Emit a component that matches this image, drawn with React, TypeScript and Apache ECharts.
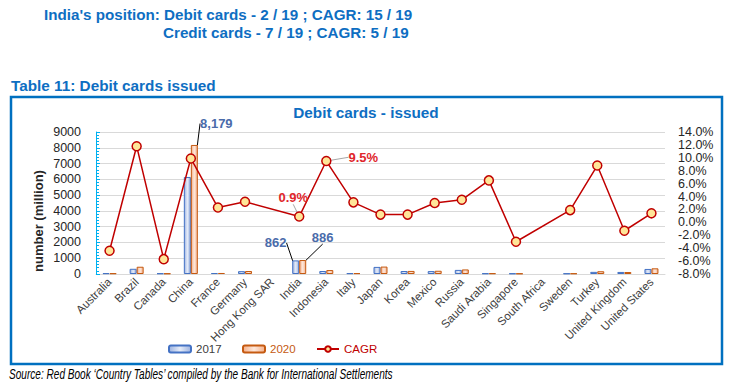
import React, { useEffect, useRef } from "react";
import * as echarts from "echarts";

const countries = [
  "Australia", "Brazil", "Canada", "China", "France", "Germany", "Hong Kong SAR",
  "India", "Indonesia", "Italy", "Japan", "Korea", "Mexico", "Russia",
  "Saudi Arabia", "Singapore", "South Africa", "Sweden", "Turkey",
  "United Kingdom", "United States",
];
const cards2017: (number | null)[] = [
  50, 330, 40, 6150, 60, 180, null, 862, 190, 50, 450, 190, 185, 260, 40, 35, null, 35, 135, 130, 320,
];
const cards2020: (number | null)[] = [
  45, 460, 35, 8179, 65, 190, null, 886, 250, 55, 470, 195, 205, 290, 45, 30, null, 38, 175, 125, 360,
];
const cagr: (number | null)[] = [
  -4.4, 11.8, -5.7, 9.9, 2.3, 3.2, null, 0.9, 9.5, 3.1, 1.2, 1.2, 3.0, 3.5, 6.5, -3.0, null, 1.9, 8.8, -1.3, 1.4,
];
const leftTicks = { min: 0, max: 9000, interval: 1000 };
const rightTicks = { min: -8, max: 14, interval: 2 };

const BLUE = "#0E6EC2";
const FONT = "'Liberation Sans', Arial, sans-serif";

export default function App() {
  const ref = useRef<HTMLDivElement>(null);
  useEffect(() => {
    if (!ref.current) return;
    const chart = echarts.init(ref.current, undefined, { renderer: "svg" });
    const grad2017 = new echarts.graphic.LinearGradient(0, 0, 1, 0, [
      { offset: 0, color: "#9CB2E0" },
      { offset: 0.5, color: "#E6ECF8" },
      { offset: 1, color: "#9CB2E0" },
    ]);
    const grad2020 = new echarts.graphic.LinearGradient(0, 0, 1, 0, [
      { offset: 0, color: "#F5B08A" },
      { offset: 0.5, color: "#FDE8DC" },
      { offset: 1, color: "#F5B08A" },
    ]);
    const labelIdx2017 = countries.indexOf("India");
    const labelIdx2020 = [countries.indexOf("China"), countries.indexOf("India")];
    const cagrLabelIdx = [countries.indexOf("India"), countries.indexOf("Indonesia")];
    const numLabel = {
      show: true,
      position: "top",
      color: "#4A6BAA",
      fontWeight: "bold",
      fontSize: 13,
      fontFamily: FONT,
      formatter: (p: any) => Number(p.value).toLocaleString("en-US"),
    };
    const legendBase = {
      top: 343,
      itemWidth: 22,
      itemHeight: 7,
      padding: 0,
      textStyle: { fontFamily: FONT, fontSize: 11.5 },
    };
    chart.setOption({
      animation: false,
      graphic: [
        {
          type: "text", left: 44, top: 7,
          style: { text: "India's position: Debit cards - 2 / 19 ; CAGR: 15 / 19", fill: BLUE, font: `bold 15.2px ${FONT}` },
        },
        {
          type: "text", left: 163, top: 25,
          style: { text: "Credit cards - 7 / 19 ; CAGR: 5 / 19", fill: BLUE, font: `bold 15.2px ${FONT}` },
        },
        {
          type: "text", left: 11, top: 78,
          style: { text: "Table 11: Debit cards issued", fill: BLUE, font: `bold 15.3px ${FONT}` },
        },
        {
          type: "rect", shape: { x: 11, y: 97, width: 711, height: 267 },
          style: { fill: "none", stroke: "#0070C0", lineWidth: 2.5 }, z: -1,
        },
        {
          type: "text", x: 38, y: 221, rotation: Math.PI / 2,
          style: { text: "number (million)", fill: "#262626", font: `bold 13px ${FONT}`, align: "center", verticalAlign: "middle" },
        },
        {
          type: "text", x: 9, y: 374, scaleX: 0.72,
          style: {
            text: "Source: Red Book \u2018Country Tables\u2019 compiled by the Bank for International Settlements",
            fill: "#000", font: `italic 14px ${FONT}`, verticalAlign: "middle",
          },
        },
      ],
      title: {
        text: "Debit cards - issued",
        left: "center",
        top: 105,
        padding: 0,
        textStyle: { color: BLUE, fontSize: 15.3, fontWeight: "bold", fontFamily: FONT },
      },
      legend: [
        { ...legendBase, left: 168, data: [{ name: "2017", textStyle: { color: "#404040" } }] },
        { ...legendBase, left: 242, data: [{ name: "2020", textStyle: { color: "#C55A11" } }] },
        { ...legendBase, left: 316, data: [{ name: "CAGR", textStyle: { color: "#C00000" } }] },
      ],
      grid: { left: 96, right: 67, top: 132, height: 142 },
      xAxis: {
        type: "category",
        data: countries,
        axisLine: { lineStyle: { color: "#D9D9D9" } },
        axisTick: { show: false },
        axisLabel: { interval: 0, rotate: 45, color: "#404040", fontSize: 11.5, fontFamily: FONT, margin: 6 },
      },
      yAxis: [
        {
          type: "value",
          ...leftTicks,
          axisLine: { show: true, lineStyle: { color: "#00B0F0" } },
          axisTick: { show: true, inside: true, length: 4, lineStyle: { color: "#00B0F0" } },
          minorTick: { show: true, splitNumber: 5, length: 3, lineStyle: { color: "#00B0F0" } },
          splitLine: { lineStyle: { color: "#D9D9D9" } },
          axisLabel: { color: "#262626", fontSize: 12.5, fontFamily: FONT, margin: 15, formatter: (v: number) => String(v) },
        },
        {
          type: "value",
          ...rightTicks,
          axisLine: { show: false },
          axisTick: { show: false },
          splitLine: { show: false },
          axisLabel: { color: "#262626", fontSize: 12.5, fontFamily: FONT, margin: 13, formatter: (v: number) => v.toFixed(1) + "%" },
        },
      ],
      series: [
        {
          name: "2017",
          type: "bar",
          barWidth: 7,
          barGap: "0%",
          itemStyle: { color: grad2017, borderColor: "#4472C4", borderWidth: 1 },
          data: cards2017.map((v, i) => (i === labelIdx2017 ? { value: v, label: numLabel } : v)),
          labelLine: { show: true, lineStyle: { color: "#000", width: 1 } },
          labelLayout: (p: any) => (p.dataIndex === labelIdx2017 ? { dx: -20, dy: -6 } : {}),
        },
        {
          name: "2020",
          type: "bar",
          barWidth: 7,
          barGap: "0%",
          itemStyle: { color: grad2020, borderColor: "#C55A11", borderWidth: 1 },
          data: cards2020.map((v, i) => (labelIdx2020.includes(i) ? { value: v, label: numLabel } : v)),
          labelLine: { show: true, lineStyle: { color: "#000", width: 1 } },
          labelLayout: (p: any) =>
            p.dataIndex === labelIdx2020[0] ? { dx: 22, dy: -10 } : p.dataIndex === labelIdx2020[1] ? { dx: 20, dy: -11 } : {},
        },
        {
          name: "CAGR",
          type: "line",
          yAxisIndex: 1,
          connectNulls: true,
          symbol: "circle",
          symbolSize: 9,
          z: 5,
          lineStyle: { color: "#C00000", width: 1.5 },
          itemStyle: { color: "#FFE699", borderColor: "#C00000", borderWidth: 1.5 },
          data: cagr.map((v, i) =>
            cagrLabelIdx.includes(i)
              ? {
                  value: v,
                  label: {
                    show: true,
                    position: "top",
                    color: "#E0262B",
                    fontWeight: "bold",
                    fontSize: 13,
                    fontFamily: FONT,
                    formatter: (p: any) => Number(p.value).toFixed(1) + "%",
                  },
                }
              : v
          ),
          labelLine: { show: true, lineStyle: { color: "#A6A6A6", width: 1 } },
          labelLayout: (p: any) =>
            p.dataIndex === cagrLabelIdx[0] ? { dx: -6, dy: -2 } : p.dataIndex === cagrLabelIdx[1] ? { dx: 37, dy: 13 } : {},
        },
      ],
    });
    return () => chart.dispose();
  }, []);
  return <div ref={ref} style={{ position: "absolute", left: 0, top: 0, width: 732, height: 386 }} />;
}
